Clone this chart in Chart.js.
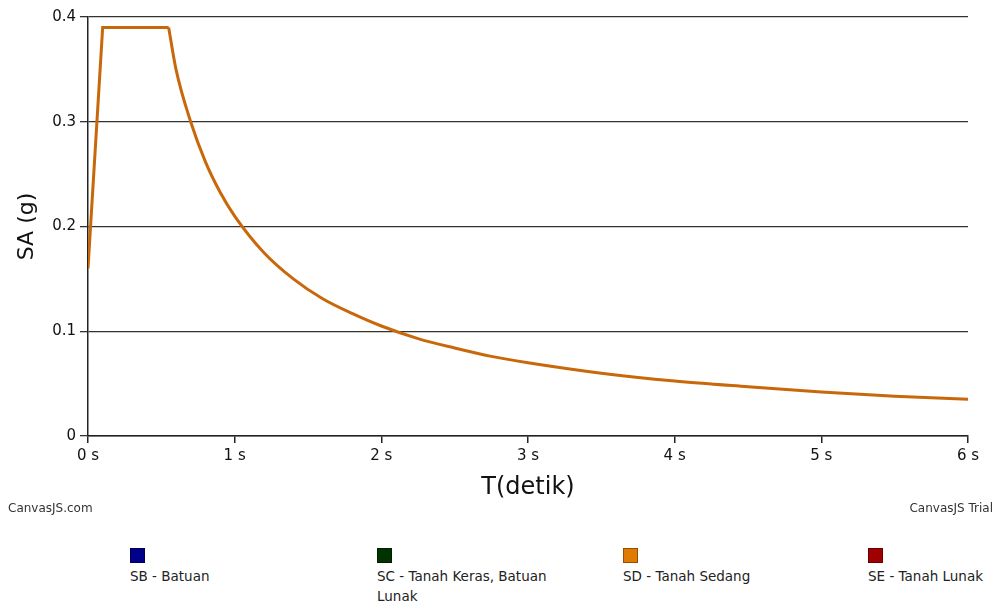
<!DOCTYPE html>
<html>
<head>
<meta charset="utf-8">
<script src="https://cdn.jsdelivr.net/npm/chart.js@4.4.1/dist/chart.umd.min.js"></script>
<style>
  body { margin: 0; background: #fff; font-family: "DejaVu Sans", sans-serif; }
  #wrap { position: relative; width: 996px; height: 605px; overflow: hidden; }
  #spectrum { position: absolute; left: 0; top: 0; }
  .credit { position: absolute; top: 501px; font-size: 12px; color: #333; }
  .leg { position: absolute; top: 548px; width: 182px; font-size: 13.5px; color: #222; line-height: 20px; }
  .leg i { display: block; width: 13px; height: 13px; border: 1px solid rgba(0,0,0,0.35); margin-bottom: 3px; }
</style>
</head>
<body>
<div id="wrap">
  <canvas id="spectrum" width="996" height="505"></canvas>
  <span class="credit" style="left:8px">CanvasJS.com</span>
  <span class="credit" style="right:3px">CanvasJS Trial</span>
  <div id="legend"></div>
</div>
<script>
// Response spectrum values (T in seconds, SA in g)
// straight part: ramp up and plateau
const rampPeriods = [0, 0.1, 0.55];
const rampValues  = [0.16, 0.39, 0.39];
// descending curve after the plateau
const curvePeriods = [0.55, 0.6, 0.7, 0.8, 0.9, 1.0, 1.2, 1.4, 1.6, 1.8, 2.0, 2.25, 2.5, 2.75, 3.0, 3.5, 4.0, 4.5, 5.0, 5.5, 6.0];
const curveValues  = [0.39, 0.35, 0.30, 0.262, 0.233, 0.21, 0.175, 0.15, 0.131, 0.117, 0.105, 0.093, 0.084, 0.076, 0.07, 0.06, 0.0525, 0.047, 0.042, 0.038, 0.035];

// Soil classes shown in the legend (only SD has data)
const seriesNames  = ["SB - Batuan", "SC - Tanah Keras, Batuan Lunak", "SD - Tanah Sedang", "SE - Tanah Lunak"];
const seriesColors = ["#00008b", "#003300", "#e07b00", "#a00000"];
const legendLeft   = [130, 377, 623, 868];

const xTicks = [0, 1, 2, 3, 4, 5, 6];
const yTicks = [0, 0.1, 0.2, 0.3, 0.4];

const lineColor = "#c8680a";
const tickFont = { family: "DejaVu Sans", size: 15 };

const toPoints = (xs, ys) => xs.map((t, k) => ({ x: t, y: ys[k] }));

const datasets = [
  { label: "SD ramp", data: toPoints(rampPeriods, rampValues), borderColor: lineColor, borderWidth: 3, pointRadius: 0, tension: 0 },
  { label: "SD curve", data: toPoints(curvePeriods, curveValues), borderColor: lineColor, borderWidth: 3, pointRadius: 0, cubicInterpolationMode: "monotone" }
];

const chart = new Chart(document.getElementById("spectrum"), {
  type: "line",
  data: { datasets },
  options: {
    responsive: false,
    animation: false,
    layout: { padding: { top: 17, right: 28, left: 0, bottom: 0 } },
    plugins: { legend: { display: false }, tooltip: { enabled: false } },
    scales: {
      x: {
        type: "linear",
        min: 0,
        max: 6,
        afterBuildTicks: (s) => { s.ticks = xTicks.map(v => ({ value: v })); },
        afterFit: (s) => { s.height = 69; },
        ticks: { callback: (v) => v + " s", font: tickFont, color: "#111", padding: 4, maxRotation: 0 },
        grid: { drawOnChartArea: false, drawTicks: true, tickLength: 7, color: "#222", lineWidth: 1.5 },
        border: { color: "#222", width: 1.5 },
        title: { display: true, text: "T(detik)", font: { family: "DejaVu Sans", size: 24 }, color: "#111", padding: { top: 0, bottom: 3 } }
      },
      y: {
        min: 0,
        max: 0.4,
        afterBuildTicks: (s) => { s.ticks = yTicks.map(v => ({ value: v })); },
        afterFit: (s) => { s.width = 88; },
        ticks: { callback: (v) => (v === 0 ? "0" : v.toFixed(1)), font: tickFont, color: "#111", padding: 4 },
        grid: { color: "#333", lineWidth: 1.3, tickLength: 8 },
        border: { color: "#222", width: 1.5 },
        title: { display: true, text: "SA (g)", font: { family: "DejaVu Sans", size: 22 }, color: "#111", padding: { top: 14, bottom: 0 } }
      }
    }
  }
});

// HTML legend: box above label, like the original
document.getElementById("legend").innerHTML = seriesNames.map((name, i) => `
  <div class="leg" style="left:${legendLeft[i]}px">
    <i style="background:${seriesColors[i]}"></i>${name}
  </div>`).join("");
</script>
</body>
</html>
